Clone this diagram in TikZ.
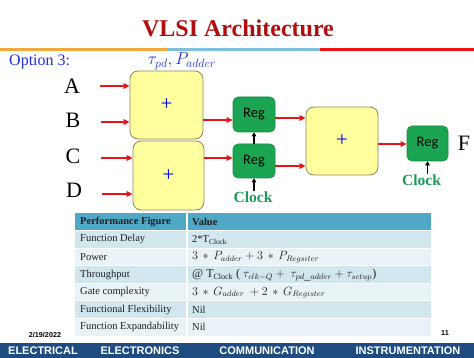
\documentclass[tikz,border=0pt]{standalone}
\usepackage{fontspec}
\setmainfont{Liberation Serif}
\newfontfamily\regfont{Carlito}
\newfontfamily\footfont{Liberation Sans}
\usetikzlibrary{arrows.meta}
\definecolor{titlered}{HTML}{B00E0E}
\definecolor{orangeline}{HTML}{F2A83A}
\definecolor{blueline}{HTML}{7CC0DE}
\definecolor{redline}{HTML}{F01010}
\definecolor{optblue}{HTML}{1C2FD8}
\definecolor{adderfill}{HTML}{FFFF9E}
\definecolor{adderborder}{HTML}{8A8660}
\definecolor{reggreen}{HTML}{1BA552}
\definecolor{regborder}{HTML}{178A45}
\definecolor{clockgreen}{HTML}{1E9A58}
\definecolor{arrowred}{HTML}{E8141A}
\definecolor{headblue}{HTML}{4FA8C6}
\definecolor{rowdark}{HTML}{D2E6EE}
\definecolor{rowlight}{HTML}{E9F3F7}
\definecolor{tabtext}{HTML}{1E1E1E}
\definecolor{footblue}{HTML}{1F4C80}
\begin{document}
\begin{tikzpicture}[x=1pt,y=-1pt,
  adder/.style={draw=adderborder, fill=adderfill, rounded corners=8pt, line width=0.8pt,
    text=blue, font=\fontsize{21}{21}\selectfont},
  regbox/.style={draw=regborder, fill=reggreen, rounded corners=5pt, line width=0.6pt,
    minimum width=42pt, minimum height=35pt, inner sep=0pt},
  reglabel/.style={inner sep=0pt, text=black, font=\regfont\fontsize{14.5}{14.5}\selectfont},
  inlabel/.style={font=\fontsize{22}{22}\selectfont, inner sep=0pt},
  redarrow/.style={draw=arrowred, line width=1.7pt, -{Triangle[length=6pt,width=5.5pt]}},
  clkarrow/.style={draw=black, line width=1.3pt, -{Triangle[length=4pt,width=4.5pt]}},
  clocklabel/.style={text=clockgreen, font=\bfseries\fontsize{15.5}{15.5}\selectfont, inner sep=0pt},
  cellhead/.style={anchor=west, text=tabtext, font=\bfseries\fontsize{10.5}{12}\selectfont, inner sep=0pt},
  cell/.style={anchor=west, text=tabtext, font=\fontsize{10.5}{12}\selectfont, inner sep=0pt},
  mcell/.style={anchor=west, text=tabtext, font=\fontsize{12}{13}\selectfont, inner sep=0pt},
  foot/.style={text=white, font=\footfont\bfseries\fontsize{11}{11}\selectfont, inner sep=0pt}
]
\useasboundingbox (0,0) rectangle (474,358);
\fill[white] (0,0) rectangle (474,358);

% title and rule
\node[text=titlered, font=\bfseries\fontsize{24}{24}\selectfont] (title) at (238,28) {VLSI Architecture};
\fill[orangeline] (0,48.5) rectangle (167,51.5);
\fill[blueline] (167,48.5) rectangle (320,51.5);
\fill[redline] (320,48.5) rectangle (474,51.5);

\node[anchor=west, text=optblue, font=\fontsize{16}{16}\selectfont, inner sep=0pt] (opt) at (9,62) {Option 3:};
\node[text=optblue, font=\fontsize{17.5}{17.5}\selectfont, inner sep=0pt] (tpd) at (182,61) {$\tau_{pd}, P_{adder}$};

% adders
\node[adder, minimum width=73pt, minimum height=68pt] (add1) at (166.5,105) {+};
\node[adder, minimum width=71pt, minimum height=69pt] (add2) at (168.5,175.5) {+};
\node[adder, minimum width=72pt, minimum height=68pt] (add3) at (342,141) {+};

% registers
\node[regbox] (reg1) at (254,114.5) {};
\node[regbox, minimum height=34pt] (reg2) at (254,161) {};
\node[regbox, minimum width=41pt] (reg3) at (427.5,143.5) {};
\node[reglabel] (reg1t) at (reg1.center) {Reg};
\node[reglabel] (reg2t) at (reg2.center) {Reg};
\node[reglabel] (reg3t) at (reg3.center) {Reg};

% input labels
\node[inlabel] (lA) at (72,86) {A};
\node[inlabel] (lB) at (73,120) {B};
\node[inlabel] (lC) at (73,156) {C};
\node[inlabel] (lD) at (74,190) {D};
\node[inlabel] (lF) at (464,143) {F};

\coordinate (iA) at (100,86);
\coordinate (iB) at (101,122);
\coordinate (iC) at (101,158);
\coordinate (iD) at (102,194);
\draw[redarrow] (iA) -- (iA -| add1.west);
\draw[redarrow] (iB) -- (iB -| add1.west);
\draw[redarrow] (iC) -- (iC -| add2.west);
\draw[redarrow] (iD) -- (iD -| add2.west);

\coordinate (o1) at (203,120);
\coordinate (o2) at (204,158);
\coordinate (o3) at (275,118);
\coordinate (o4) at (275,166);
\coordinate (o5) at (378,144);
\draw[redarrow] (o1 -| add1.east) -- (o1 -| reg1.west);
\draw[redarrow] (o2 -| add2.east) -- (o2 -| reg2.west);
\draw[redarrow] (o3 -| reg1.east) -- (o3 -| add3.west);
\draw[redarrow] (o4 -| reg2.east) -- (o4 -| add3.west);
\draw[redarrow] (o5 -| add3.east) -- (o5 -| reg3.west);

% clocks
\node[clocklabel] (clk1) at (253,197) {Clock};
\node[clocklabel] (clk2) at (421.5,180) {Clock};
\draw[clkarrow] (clk1.north -| reg2.south) -- (reg2.south);
\draw[clkarrow] (reg2.north) -- (reg1.south);
\draw[clkarrow] (clk2.north -| reg3.south) -- (reg3.south);

% table
\fill[headblue] (75,213) rectangle (431,230.5);
\fill[rowdark]  (75,230.5) rectangle (431,248.1);
\fill[rowlight] (75,248.1) rectangle (431,265.7);
\fill[rowdark]  (75,265.7) rectangle (431,283.3);
\fill[rowlight] (75,283.3) rectangle (431,300.9);
\fill[rowdark]  (75,300.9) rectangle (431,318.5);
\fill[rowlight] (75,318.5) rectangle (431,336.1);
\foreach \yy in {230.5,248.1,265.7,283.3,300.9,318.5}
  \draw[white, line width=1pt] (75,\yy) -- (431,\yy);
\draw[white, line width=1.2pt] (187,213) -- (187,336.1);

\node[cellhead] (h1) at (80,222) {Performance Figure};
\node[cellhead] (h2) at (192,222) {Value};
\node[cell] (r1a) at (80,239.3) {Function Delay};
\node[cell] (r1b) at (192,240.3) {2*T$_{\mathrm{Clock}}$};
\node[cell] (r2a) at (80,256.9) {Power};
\node[mcell] (r2b) at (192,257.4) {$3\,*\,P_{adder}+3\,*\,P_{Regsiter}$};
\node[cell] (r3a) at (80,274.5) {Throughput};
\node[mcell] (r3b) at (192,275) {@ T$_{\mathrm{Clock}}$ ( $\tau_{clk-Q}+\ \tau_{pd\_adder}+\tau_{setup}$)};
\node[cell] (r4a) at (80,292.1) {Gate complexity};
\node[mcell] (r4b) at (192,292.6) {$3\,*\,G_{adder}\ +2\,*\,G_{Register}$};
\node[cell] (r5a) at (80,309.7) {Functional Flexibility};
\node[cell] (r5b) at (192,309.7) {Nil};
\node[cell] (r6a) at (80,327.3) {Function Expandability};
\node[cell] (r6b) at (192,327.3) {Nil};

% footer
\node[font=\footfont\bfseries\fontsize{7.2}{7.2}\selectfont, inner sep=0pt] (date) at (45,335) {2/19/2022};
\node[font=\footfont\bfseries\fontsize{7.2}{7.2}\selectfont, inner sep=0pt] (page) at (445,333) {11};
\fill[footblue] (0,343) rectangle (474,358);
\node[foot] (f1) at (43,351) {ELECTRICAL};
\node[foot] (f2) at (140,351) {ELECTRONICS};
\node[foot] (f3) at (267,351) {COMMUNICATION};
\node[foot] (f4) at (408,351) {INSTRUMENTATION};
\end{tikzpicture}
\end{document}
